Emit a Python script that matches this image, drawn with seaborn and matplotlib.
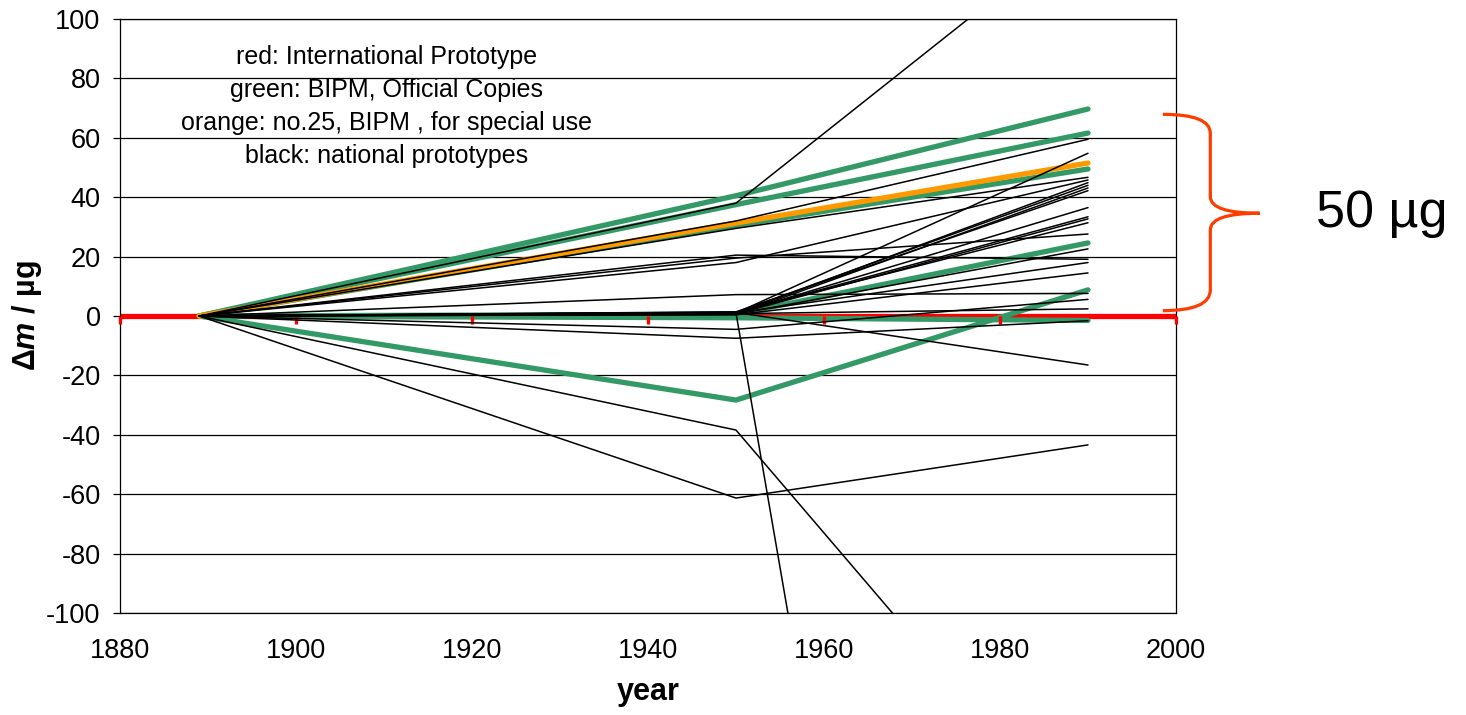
import numpy as np
import pandas as pd
import matplotlib
matplotlib.use("Agg")
import matplotlib.pyplot as plt
from matplotlib.path import Path
from matplotlib.patches import PathPatch
import seaborn as sns

sns.set_theme(style="white")
plt.rcParams["font.family"] = ["Liberation Sans", "DejaVu Sans"]
plt.rcParams.update({
    "text.color": "black",
    "axes.labelcolor": "black",
    "xtick.color": "black",
    "ytick.color": "black",
    "axes.unicode_minus": False,
    "mathtext.fontset": "custom",
    "mathtext.rm": "Liberation Sans:bold",
    "mathtext.bf": "Liberation Sans:bold",
    "mathtext.it": "Liberation Sans:italic:bold",
})

# ── data ──────────────────────────────────────────────────────────────────────

years = [1889, 1950, 1990]

# international prototype (reference, 0 by definition)
red_years = [1880, 2000]
red_dm = [0, 0]

# BIPM official copies
green_dm = [
    [0, 40.5, 69.7],
    [0, 37.5, 61.6],
    [0, 30.5, 49.5],
    [0, 0.6, 24.6],
    [0, -0.6, -1.5],
    [0, -28.3, 8.8],
]

# no.25, BIPM, for special use
orange_dm = [0, 31.3, 51.5]

# national prototypes
black_dm = [
    [0, 38.0, 132.0],
    [0, 32.0, 59.5],
    [0, 29.5, 46.7],
    [0, 20.5, 19.1],
    [0, 19.5, 27.6],
    [0, 18.0, 45.8],
    [0, 7.2, 7.6],
    [0, 1.0, 54.8],
    [0, 0.8, 44.9],
    [0, 1.2, 44.0],
    [0, 0.5, 43.1],
    [0, 1.4, 42.2],
    [0, 0.9, 36.5],
    [0, 1.1, 33.4],
    [0, 0.7, 32.7],
    [0, 1.3, 31.4],
    [0, 0.6, 22.6],
    [0, 1.0, 18.0],
    [0, 0.4, 14.5],
    [0, 0.8, 2.4],
    [0, 1.2, -16.5],
    [0, 1.0, -684.0],
    [0, -4.5, 5.6],
    [0, -7.5, -1.6],
    [0, -38.4, -177.0],
    [0, -61.3, -43.4],
]

x_ticks = [1880, 1900, 1920, 1940, 1960, 1980, 2000]
y_ticks = [-100, -80, -60, -40, -20, 0, 20, 40, 60, 80, 100]

legend_lines = [
    "red: International Prototype",
    "green: BIPM, Official Copies",
    "orange: no.25, BIPM , for special use",
    "black: national prototypes",
]


def to_long(series, group):
    rows = []
    for i, vals in enumerate(series):
        for yr, v in zip(years, vals):
            rows.append({"year": yr, "dm": v, "line": f"{group}{i}"})
    return pd.DataFrame(rows)


df_green = to_long(green_dm, "g")
df_black = to_long(black_dm, "b")
df_orange = to_long([orange_dm], "o")

# ── plot ──────────────────────────────────────────────────────────────────────

fig = plt.figure(figsize=(14.66, 7.15), dpi=100)
ax = fig.add_axes([120 / 1466, 1 - 613 / 715, 1056 / 1466, 594 / 715])

sns.lineplot(x=red_years, y=red_dm, color="#FF0000", linewidth=3.8, ax=ax, zorder=2)
sns.lineplot(data=df_green, x="year", y="dm", units="line", estimator=None,
             color="#339966", linewidth=3.8, ax=ax, zorder=3)
sns.lineplot(data=df_orange, x="year", y="dm", units="line", estimator=None,
             color="#FF9900", linewidth=3.8, ax=ax, zorder=4)
sns.lineplot(data=df_black, x="year", y="dm", units="line", estimator=None,
             color="black", linewidth=1.1, ax=ax, zorder=5)

ax.set_xlim(1880, 2000)
ax.set_ylim(-100, 100)
ax.set_xticks(x_ticks)
ax.set_yticks(y_ticks)
ax.yaxis.grid(True, color="black", linewidth=0.9)
ax.xaxis.grid(False)
ax.set_axisbelow(True)
for s in ax.spines.values():
    s.set_color("black")
    s.set_linewidth(0.9)

ax.tick_params(axis="x", length=0, pad=18, labelsize=19.5)
ax.tick_params(axis="y", left=True, direction="out", length=5, width=0.9,
               color="black", pad=9, labelsize=19.5)

# red category axis crossing at zero
sec = ax.secondary_xaxis(0.5)
sec.set_xticks(x_ticks)
sec.tick_params(axis="x", direction="in", length=5.5, width=2.4, colors="#FF0000",
                labeltop=False, labelbottom=False)
for s in sec.spines.values():
    s.set_visible(False)
sec.set_zorder(4.5)

ax.set_xlabel("year", fontsize=22, fontweight="bold")
ax.xaxis.set_label_coords(0.5, -0.108)
ax.set_ylabel(r"$\Delta\mathit{m}$ / µg", fontsize=22, fontweight="bold")
ax.yaxis.set_label_coords(-0.072, 0.5)

ax.text(0.252, 0.853, "\n".join(legend_lines), transform=ax.transAxes,
        ha="center", va="center", multialignment="center",
        fontsize=18, linespacing=1.47, zorder=6)

# curly brace marking the spread
xl, xm, xt = 1998.5, 2003.9, 2009.5
yt, yc, yb = 67.9, 34.6, 1.8
verts = [
    (xl, yt), (xm, yt), (xm, 61.5),
    (xm, 40.2),
    (xm, yc), (xt, yc),
    (xm, yc), (xm, 29.0),
    (xm, 8.8),
    (xm, yb), (xl, yb),
]
codes = [Path.MOVETO, Path.CURVE3, Path.CURVE3,
         Path.LINETO,
         Path.CURVE3, Path.CURVE3,
         Path.CURVE3, Path.CURVE3,
         Path.LINETO,
         Path.CURVE3, Path.CURVE3]
brace = PathPatch(Path(verts, codes), facecolor="none", edgecolor="#FF3C00",
                  linewidth=2.3, clip_on=False, zorder=7)
ax.add_patch(brace)

fig.text(0.9427, 0.702, "50 µg", ha="center", va="center", fontsize=37.5)

fig.savefig("out.png", dpi=100)
